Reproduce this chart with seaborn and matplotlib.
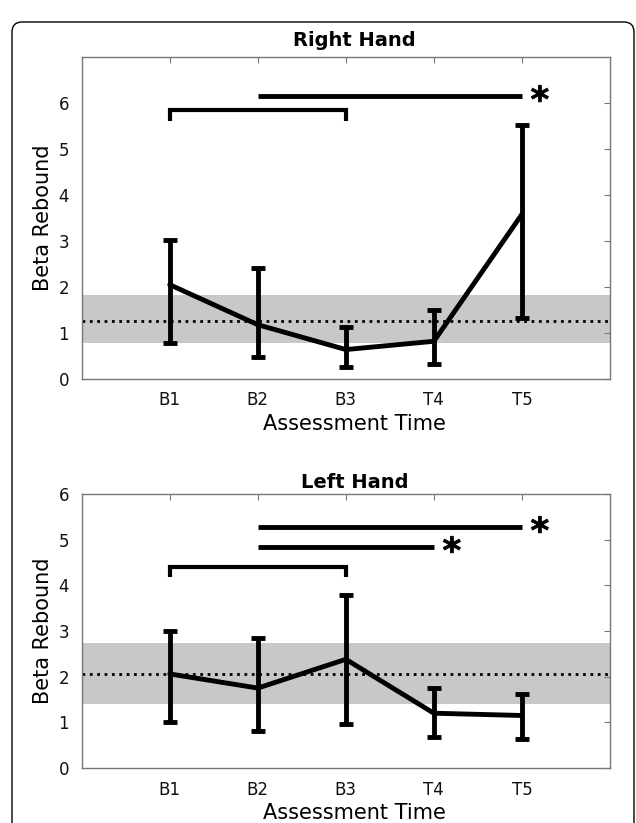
import numpy as np
import pandas as pd
import matplotlib.pyplot as plt
import seaborn as sns
from matplotlib.patches import FancyBboxPatch
from matplotlib.textpath import TextPath
from matplotlib.font_manager import FontProperties
from matplotlib.path import Path

# assessment times and values
times = ['B1', 'B2', 'B3', 'T4', 'T5']

right_mean = [2.05, 1.18, 0.64, 0.82, 3.58]
right_low = [0.79, 0.47, 0.25, 0.33, 1.32]
right_high = [3.03, 2.42, 1.13, 1.49, 5.53]
right_band = [0.79, 1.82]
right_ref = 1.27
# significance marks: (from, to, height, has bracket ends, starred)
right_sig = [(1, 3, 5.84, True, False), (2, 5, 6.16, False, True)]

left_mean = [2.06, 1.75, 2.38, 1.20, 1.15]
left_low = [1.00, 0.82, 0.96, 0.69, 0.64]
left_high = [3.00, 2.84, 3.78, 1.75, 1.63]
left_band = [1.40, 2.73]
left_ref = 2.05
left_sig = [(1, 3, 4.41, True, False), (2, 4, 4.84, False, True), (2, 5, 5.28, False, True)]

sns.set_style("white")
plt.rcParams['font.family'] = ['DejaVu Sans']
plt.rcParams['text.color'] = 'black'
plt.rcParams['axes.labelcolor'] = 'black'

# bold asterisk as a centred marker
tp = TextPath((0, 0), '*', prop=FontProperties(family='DejaVu Sans', weight='bold'))
v = tp.vertices
star_path = Path(v - (v.min(axis=0) + v.max(axis=0)) / 2, tp.codes)

fig = plt.figure(figsize=(6.36, 8.23), dpi=100)

# rounded frame around the figure panel
frame = FancyBboxPatch((0.12, -0.5), 6.22, 8.51, boxstyle="round,pad=0,rounding_size=0.1",
                       transform=fig.dpi_scale_trans, fill=False, ec='k', lw=1.0)
fig.patches.append(frame)

ax1 = fig.add_axes([0.1285, 0.5395, 0.8305, 0.3912])
ax2 = fig.add_axes([0.1285, 0.0668, 0.8305, 0.3330])


def draw_panel(ax, mean, low, high, band, ref, sig, title, ymax, title_pad):
    pos = np.arange(1, len(times) + 1)
    df = pd.DataFrame({'pos': pos, 'mean': mean, 'low': low, 'high': high})

    ax.axhspan(band[0], band[1], color='#c8c8c8', lw=0, zorder=0)
    ax.axhline(ref, ls=':', color='k', lw=2.0, zorder=1)

    sns.lineplot(data=df, x='pos', y='mean', ax=ax, color='k', lw=3.5, zorder=3)
    ax.errorbar(df['pos'], df['mean'],
                yerr=[df['mean'] - df['low'], df['high'] - df['mean']],
                fmt='none', ecolor='k', elinewidth=3.5, capsize=5, capthick=3.5, zorder=3)

    for x0, x1, y, ends, star in sig:
        if ends:
            ax.plot([x0, x0, x1, x1], [y - 0.22, y, y, y - 0.22], color='k', lw=3,
                    solid_capstyle='butt', solid_joinstyle='miter')
        else:
            ax.plot([x0, x1], [y, y], color='k', lw=3.5, solid_capstyle='butt')
        if star:
            ax.plot(x1 + 0.19, y - 0.04, marker=star_path, ms=19, color='k', mew=0.6,
                    mec='k', ls='none')

    ax.set_xlim(0, 6)
    ax.set_ylim(0, ymax)
    ax.set_xticks(pos)
    ax.set_xticklabels(times)
    ax.set_yticks(range(0, 7))
    ax.tick_params(direction='in', top=True, right=True, length=4, width=0.8,
                   color='#777777', labelsize=12, pad=9, labelcolor='#111111')
    for s in ax.spines.values():
        s.set_visible(True)
        s.set_color('#777777')
        s.set_linewidth(1.0)
    ax.set_title(title, fontsize=14, fontweight='bold', x=0.516, pad=title_pad, color='black')
    ax.set_xlabel('Assessment Time', fontsize=15, labelpad=3)
    ax.set_ylabel('Beta Rebound', fontsize=15, labelpad=4)
    ax.xaxis.label.set_x(0.516)


draw_panel(ax1, right_mean, right_low, right_high, right_band, right_ref, right_sig,
           'Right Hand', 7, 8)
draw_panel(ax2, left_mean, left_low, left_high, left_band, left_ref, left_sig,
           'Left Hand', 6, 4)

fig.savefig('out.png', dpi=100)
